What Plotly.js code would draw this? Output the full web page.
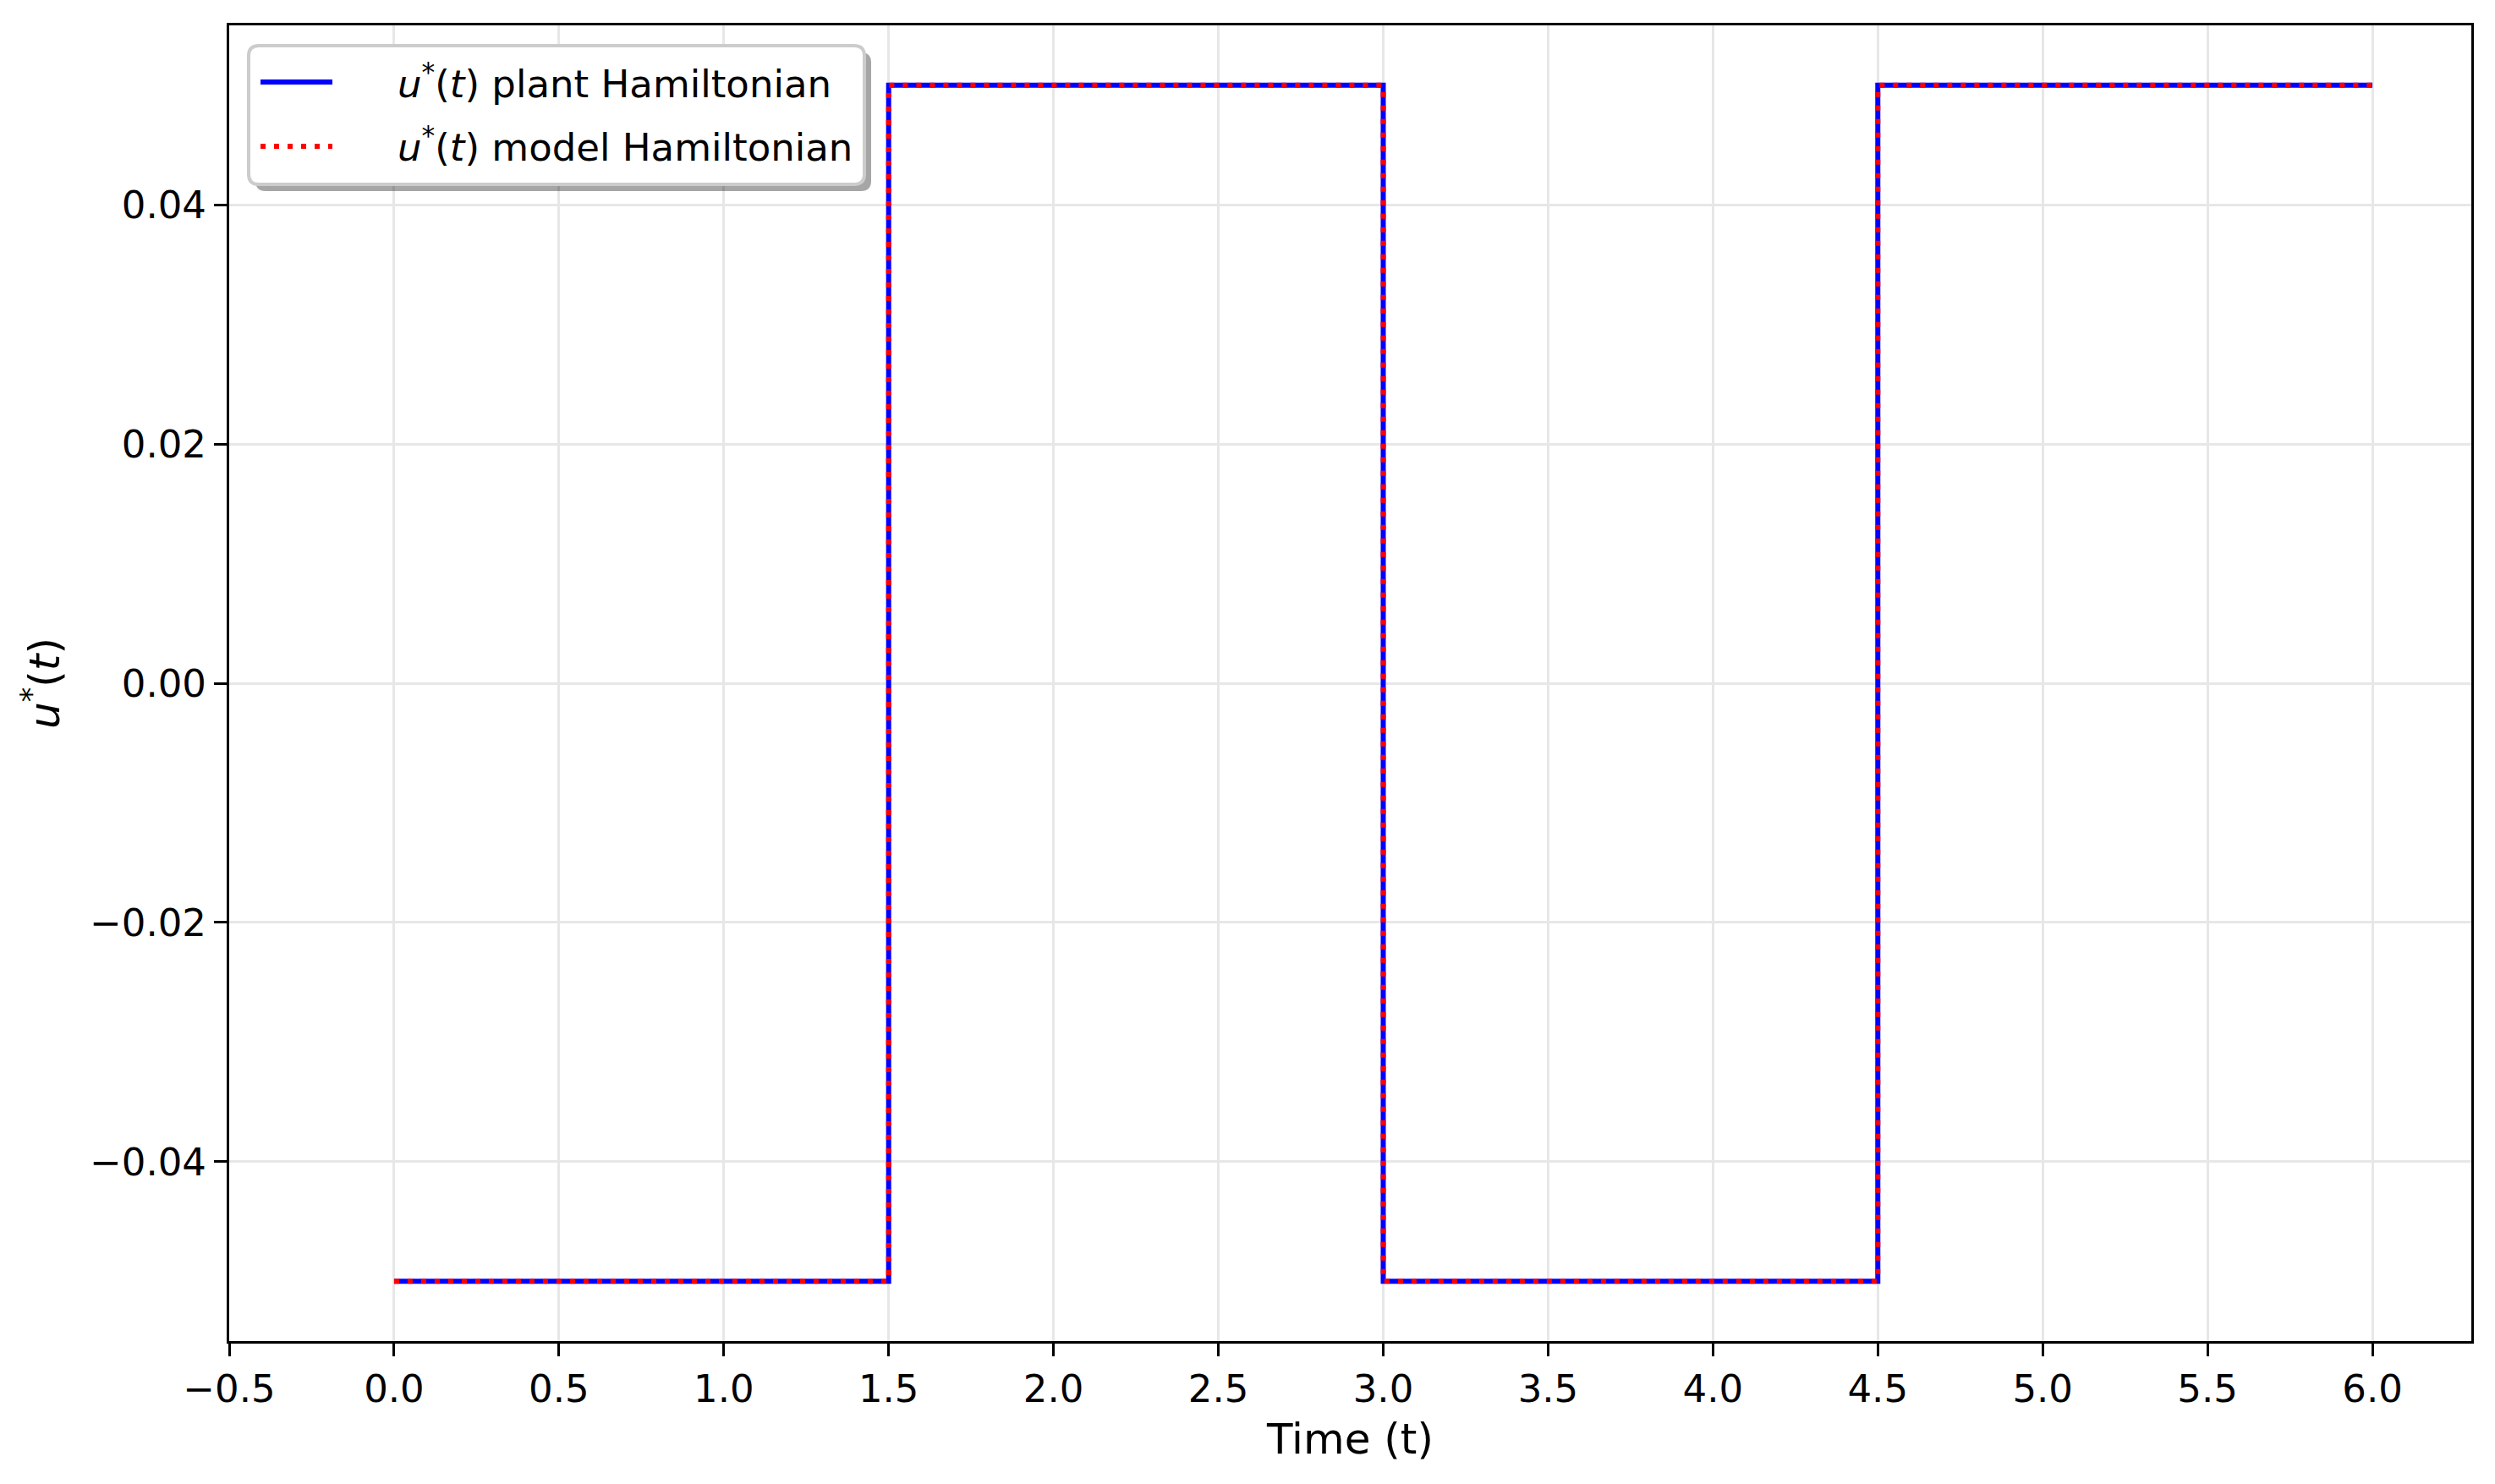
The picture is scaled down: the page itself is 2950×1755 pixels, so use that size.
<!DOCTYPE html>
<html>
<head>
<meta charset="utf-8">
<script src="https://cdn.plot.ly/plotly-3.0.1.min.js"></script>
<style>
  html, body { margin: 0; padding: 0; background: #ffffff; }
  #chart { width: 2950px; height: 1755px; }
</style>
</head>
<body>
<div id="chart"></div>
<script>
// ---- data ----
const timePoints = [0.0, 1.5, 3.0, 4.5, 6.0];
const uPlant = [-0.05, 0.05, -0.05, 0.05, 0.05];
const uModel = [-0.05, 0.05, -0.05, 0.05, 0.05];
const seriesNames = [
  '<i>u</i><sup>*</sup>(<i>t</i>) plant Hamiltonian',
  '<i>u</i><sup>*</sup>(<i>t</i>) model Hamiltonian'
];
const seriesColors = ['#0000ff', '#ff0000'];
const seriesDash = ['solid', '6px,10px'];
const xTickVals = [-0.5, 0.0, 0.5, 1.0, 1.5, 2.0, 2.5, 3.0, 3.5, 4.0, 4.5, 5.0, 5.5, 6.0];
const yTickVals = [-0.04, -0.02, 0.0, 0.02, 0.04];

const FONT = 'DejaVu Sans, Liberation Sans, sans-serif';
const W = 2950, H = 1755;
const M = { l: 271, r: 28, t: 30, b: 169 };
const PW = W - M.l - M.r, PH = H - M.t - M.b;
const px2x = p => (p - M.l) / PW;
const py2y = p => 1 - (p - M.t) / PH;

const traces = [
  {
    x: timePoints, y: uPlant, name: seriesNames[0],
    type: 'scatter', mode: 'lines',
    line: { shape: 'hv', color: seriesColors[0], width: 6, dash: seriesDash[0] }
  },
  {
    x: timePoints, y: uModel, name: seriesNames[1],
    type: 'scatter', mode: 'lines',
    line: { shape: 'hv', color: seriesColors[1], width: 6, dash: seriesDash[1] }
  }
];

// ---- legend (matplotlib style: rounded box with shadow) ----
function roundRect(x0, y0, x1, y1, r) {
  const rx = r / PW, ry = r / PH;
  const X0 = px2x(x0), X1 = px2x(x1), Y0 = py2y(y0), Y1 = py2y(y1); // Y0 top, Y1 bottom
  return 'M' + (X0 + rx) + ',' + Y0 +
    ' L' + (X1 - rx) + ',' + Y0 + ' Q' + X1 + ',' + Y0 + ' ' + X1 + ',' + (Y0 - ry) +
    ' L' + X1 + ',' + (Y1 + ry) + ' Q' + X1 + ',' + Y1 + ' ' + (X1 - rx) + ',' + Y1 +
    ' L' + (X0 + rx) + ',' + Y1 + ' Q' + X0 + ',' + Y1 + ' ' + X0 + ',' + (Y1 + ry) +
    ' L' + X0 + ',' + (Y0 - ry) + ' Q' + X0 + ',' + Y0 + ' ' + (X0 + rx) + ',' + Y0 + ' Z';
}
const LG = { x0: 294, y0: 54, x1: 1022, y1: 218, shadow: 8, r: 12,
             hx0: 308, hx1: 393, tx: 468, rows: [96, 172] };

const shapes = [
  { type: 'path', xref: 'paper', yref: 'paper', layer: 'above',
    path: roundRect(LG.x0 + LG.shadow, LG.y0 + LG.shadow, LG.x1 + LG.shadow, LG.y1 + LG.shadow, LG.r),
    fillcolor: 'rgba(0,0,0,0.35)', line: { width: 0 } },
  { type: 'path', xref: 'paper', yref: 'paper', layer: 'above',
    path: roundRect(LG.x0, LG.y0, LG.x1, LG.y1, LG.r),
    fillcolor: '#ffffff', line: { color: '#cccccc', width: 4 } }
];
const annotations = [];
seriesNames.forEach((name, i) => {
  shapes.push({ type: 'line', xref: 'paper', yref: 'paper', layer: 'above',
    x0: px2x(LG.hx0), x1: px2x(LG.hx1), y0: py2y(LG.rows[i] + 1), y1: py2y(LG.rows[i] + 1),
    line: { color: seriesColors[i], width: 6, dash: seriesDash[i] } });
  annotations.push({ xref: 'paper', yref: 'paper', x: px2x(LG.tx), y: py2y(LG.rows[i]),
    xanchor: 'left', yanchor: 'middle', showarrow: false, text: name,
    font: { family: FONT, size: 45, color: '#000000' } });
});

const layout = {
  width: W, height: H,
  paper_bgcolor: '#ffffff', plot_bgcolor: '#ffffff',
  margin: { l: M.l, r: M.r, t: M.t, b: M.b, pad: 0 },
  font: { family: FONT, size: 45, color: '#000000' },
  showlegend: false,
  shapes: shapes,
  annotations: annotations,
  xaxis: {
    range: [-0.5, 6.3],
    tickvals: xTickVals, tickformat: '.1f',
    showgrid: true, gridcolor: '#e7e7e7', gridwidth: 3,
    zeroline: false,
    showline: true, linecolor: '#000000', linewidth: 3, mirror: true,
    ticks: 'outside', ticklen: 15, tickwidth: 3, tickcolor: '#000000',
    tickfont: { family: FONT, size: 45, color: '#000000' },
    title: { text: 'Time (t)', font: { family: FONT, size: 50, color: '#000000' }, standoff: 16 }
  },
  yaxis: {
    range: [-0.055, 0.055],
    tickvals: yTickVals, tickformat: '.2f',
    showgrid: true, gridcolor: '#e7e7e7', gridwidth: 3,
    zeroline: false,
    showline: true, linecolor: '#000000', linewidth: 3, mirror: true,
    ticks: 'outside', ticklen: 15, tickwidth: 3, tickcolor: '#000000',
    tickfont: { family: FONT, size: 45, color: '#000000' },
    title: { text: '<i>u</i><sup>*</sup>(<i>t</i>)', font: { family: FONT, size: 50, color: '#000000' }, standoff: 20 }
  }
};

Plotly.newPlot('chart', traces, layout, { staticPlot: true, displayModeBar: false });
</script>
</body>
</html>
